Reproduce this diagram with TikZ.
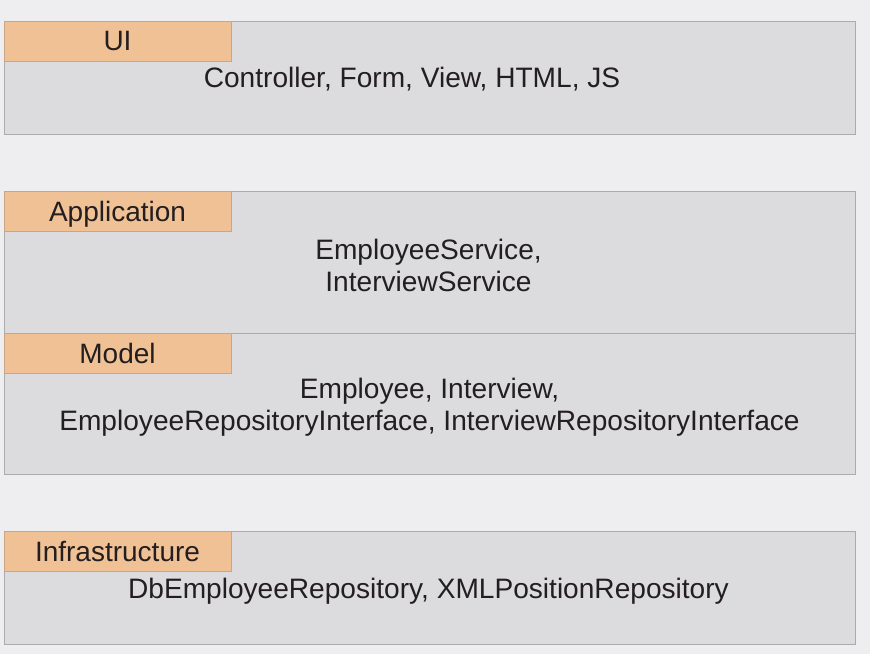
\documentclass[tikz,border=0pt]{standalone}
\usepackage{fontspec}
\setmainfont{Liberation Sans}
\definecolor{bg}{HTML}{EEEDF0}
\definecolor{boxfill}{HTML}{DCDBDE}
\definecolor{boxline}{HTML}{ABAAAD}
\definecolor{tabfill}{HTML}{F0C195}
\definecolor{tabline}{HTML}{C9A686}
\definecolor{txt}{HTML}{231E20}
\begin{document}
\begin{tikzpicture}[x=1pt,y=-1pt,
  layer/.style={draw=boxline, fill=boxfill, line width=1.3pt, anchor=north west,
    inner sep=0pt, minimum width=851pt},
  tab/.style={draw=tabline, fill=tabfill, line width=1.1pt, anchor=north west,
    inner sep=0pt, minimum width=227pt, minimum height=40pt},
  label/.style={font=\fontsize{28}{32}\selectfont, text=txt, inner sep=0pt, anchor=base},
  content/.style={font=\fontsize{28.1}{31.5}\selectfont, text=txt, inner sep=0pt,
    align=center, anchor=base}]
\fill[bg] (0,0) rectangle (870,654);
\useasboundingbox (0,0) rectangle (870,654);
% UI
\node[layer, minimum height=113pt] (uibox) at (4,21) {};
\node[tab] (uitab) at (4,21) {};
\node[label] (uilabel) at (117.5,50) {UI};
\node[content] (uitext) at (412,87) {Controller, Form, View, HTML, JS};
% Application
\node[layer, minimum height=142pt] (appbox) at (4,191) {};
\node[tab] (apptab) at (4,191) {};
\node[label] (applabel) at (117.5,221) {Application};
\node[content] (apptext) at (428.5,291) {EmployeeService,\\InterviewService};
% Model
\node[layer, minimum height=141pt] (modelbox) at (4,333) {};
\node[tab] (modeltab) at (4,333) {};
\node[label] (modellabel) at (117.5,363) {Model};
\node[content] (modeltext) at (429.5,430) {Employee, Interview,\\EmployeeRepositoryInterface, InterviewRepositoryInterface};
% Infrastructure
\node[layer, minimum height=113pt] (infrabox) at (4,531) {};
\node[tab] (infratab) at (4,531) {};
\node[label] (infralabel) at (117.5,561) {Infrastructure};
\node[content] (infratext) at (428.5,598) {DbEmployeeRepository, XMLPositionRepository};
\end{tikzpicture}
\end{document}
